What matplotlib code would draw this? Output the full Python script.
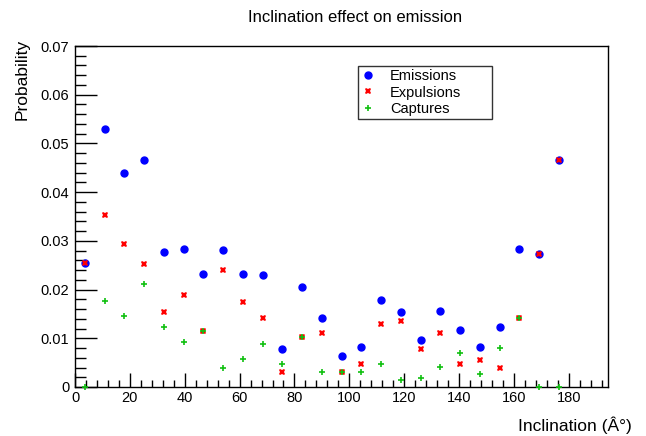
import matplotlib
matplotlib.use("Agg")
import matplotlib.pyplot as plt
from matplotlib.ticker import MultipleLocator

plt.rcParams["font.family"] = ["Liberation Sans", "DejaVu Sans"]

inclination = [3.6, 10.8, 18.0, 25.2, 32.4, 39.6, 46.8, 54.0, 61.2, 68.4,
               75.6, 82.8, 90.0, 97.2, 104.4, 111.6, 118.8, 126.0, 133.2,
               140.4, 147.6, 154.8, 162.0, 169.2, 176.4]
emissions = [0.0255, 0.0530, 0.0440, 0.0465, 0.0278, 0.0283, 0.0231, 0.0281,
             0.0232, 0.0230, 0.0077, 0.0205, 0.0142, 0.0064, 0.0082, 0.0179,
             0.0153, 0.0096, 0.0155, 0.0118, 0.0083, 0.0123, 0.0283, 0.0274,
             0.0465]
expulsions = [0.0255, 0.0353, 0.0293, 0.0253, 0.0154, 0.0188, 0.0114, 0.0240,
              0.0174, 0.0141, 0.0030, 0.0102, 0.0110, 0.0031, 0.0048, 0.0130,
              0.0135, 0.0077, 0.0110, 0.0047, 0.0055, 0.0039, 0.0141, 0.0274,
              0.0465]
captures = [0.0, 0.0176, 0.0145, 0.0211, 0.0123, 0.0093, 0.0114, 0.0038,
            0.0057, 0.0088, 0.0047, 0.0102, 0.0030, 0.0031, 0.0031, 0.0048,
            0.0015, 0.0018, 0.0042, 0.0070, 0.0027, 0.0081, 0.0141, 0.0, 0.0]

fig = plt.figure(figsize=(6.46, 4.36), dpi=100)
ax = fig.add_axes([75 / 646, 1 - 387 / 436, 533 / 646, 341 / 436])

ax.plot(inclination, emissions, "o", color="#0000ff", markersize=5,
        linestyle="none", label="Emissions", clip_on=False, zorder=3)
ax.plot(inclination, expulsions, "X", color="#ff0000", markersize=5,
        markeredgewidth=0, linestyle="none", label="Expulsions", clip_on=False, zorder=4)
ax.plot(inclination, captures, "+", color="#11c011", markersize=4.5,
        markeredgewidth=1.2, linestyle="none", label="Captures", clip_on=False, zorder=5)

ax.set_xlim(0, 194.3)
ax.set_ylim(0, 0.07)
ax.xaxis.set_major_locator(MultipleLocator(20))
ax.xaxis.set_minor_locator(MultipleLocator(4))
ax.yaxis.set_major_locator(MultipleLocator(0.01))
ax.yaxis.set_minor_locator(MultipleLocator(0.002))
ax.yaxis.set_major_formatter(plt.FuncFormatter(lambda v, p: "0" if abs(v) < 1e-9 else f"{v:.2f}"))

ax.tick_params(axis="x", which="major", direction="in", length=10, width=1,
               labelsize=10.5, pad=3)
ax.tick_params(axis="x", which="minor", direction="in", length=5, width=1)
ax.tick_params(axis="y", which="major", direction="in", length=16, width=1,
               labelsize=10.5, pad=4)
ax.tick_params(axis="y", which="minor", direction="in", length=8, width=1)
for side in ax.spines.values():
    side.set_linewidth(1)

fig.text(355 / 646, 1 - 18 / 436, "Inclination effect on emission",
         ha="center", va="center", fontsize=12)
fig.text(22 / 646, 1 - 39 / 436, "Probability", rotation=90,
         ha="center", va="top", fontsize=12.5)
fig.text(632 / 646, 1 - 425 / 436, "Inclination (Â°)",
         ha="right", va="center", fontsize=12.5)

leg_x0 = (358 - 75) / 533
leg_w = (492 - 358) / 533
leg_top = (387 - 66) / 341
leg = ax.legend(loc="upper left", bbox_to_anchor=(leg_x0, leg_top - 0.2, leg_w, 0.2),
                mode="expand", frameon=True, fancybox=False, fontsize=10.5,
                handlelength=1.0, handletextpad=1.0, borderpad=0.2,
                labelspacing=0.18, borderaxespad=0)
leg.get_frame().set_edgecolor("black")
leg.get_frame().set_linewidth(1)

fig.savefig("out.png", dpi=100)
